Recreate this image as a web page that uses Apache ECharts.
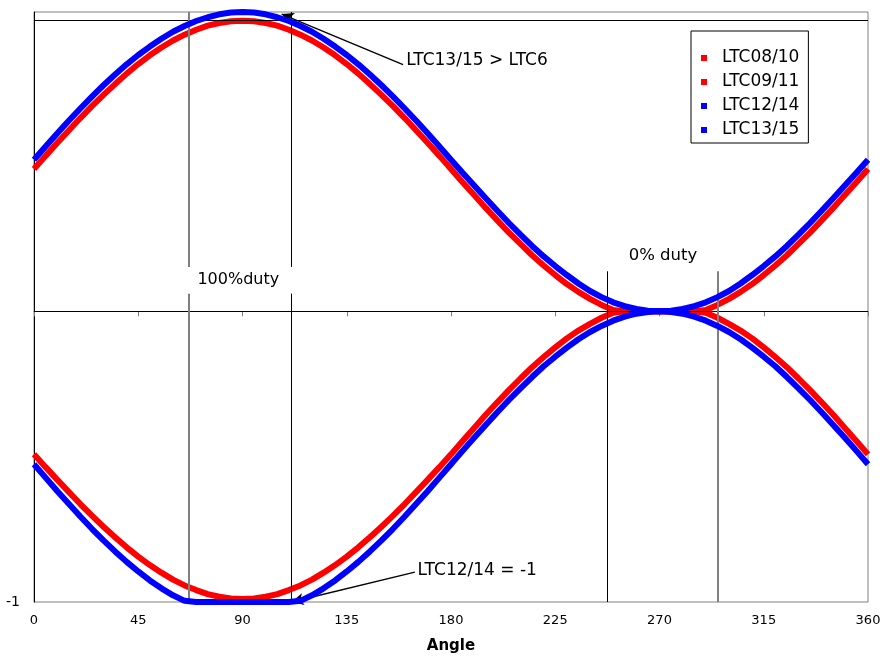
<!DOCTYPE html>
<html>
<head>
<meta charset="utf-8">
<script src="https://cdn.jsdelivr.net/npm/echarts@6/dist/echarts.min.js"></script>
<style>
html,body{margin:0;padding:0;background:#fff;}
#chart{width:887px;height:659px;}
</style>
</head>
<body>
<div id="chart"></div>
<script>
// ---- data ----
const angles = [0,5,10,15,20,25,30,35,40,45,50,55,60,65,70,75,80,85,90,95,100,105,110,115,120,125,130,135,140,145,150,155,160,165,170,175,180,185,190,195,200,205,210,215,220,225,230,235,240,245,250,255,260,265,270,275,280,285,290,295,300,305,310,315,320,325,330,335,340,345,350,355,360];

const seriesNames = ['LTC08/10','LTC09/11','LTC12/14','LTC13/15'];

const ltc0810 = [0.490,0.535,0.579,0.622,0.665,0.706,0.745,0.782,0.818,0.851,0.881,0.908,0.932,0.952,0.969,0.983,0.992,0.998,1.000,0.998,0.992,0.983,0.969,0.952,0.932,0.908,0.881,0.851,0.818,0.782,0.745,0.706,0.665,0.622,0.579,0.535,0.490,0.444,0.400,0.356,0.313,0.271,0.232,0.193,0.158,0.125,0.094,0.067,0.043,0.022,0.005,0,0,0,0,0,0,0,0.005,0.022,0.043,0.067,0.094,0.125,0.158,0.193,0.232,0.271,0.313,0.356,0.400,0.444,0.490];

const ltc0911 = [-0.492,-0.536,-0.579,-0.621,-0.663,-0.703,-0.741,-0.777,-0.812,-0.844,-0.873,-0.899,-0.923,-0.943,-0.959,-0.973,-0.982,-0.988,-0.990,-0.988,-0.982,-0.973,-0.959,-0.943,-0.923,-0.899,-0.873,-0.844,-0.812,-0.777,-0.741,-0.703,-0.663,-0.621,-0.579,-0.536,-0.492,-0.446,-0.401,-0.356,-0.313,-0.271,-0.231,-0.192,-0.157,-0.124,-0.093,-0.066,-0.043,-0.022,-0.005,0,0,0,0,0,0,0,-0.005,-0.022,-0.043,-0.066,-0.093,-0.124,-0.157,-0.192,-0.231,-0.271,-0.313,-0.356,-0.401,-0.446,-0.492];

const ltc1214 = [-0.526,-0.572,-0.618,-0.662,-0.706,-0.748,-0.788,-0.826,-0.862,-0.895,-0.926,-0.953,-0.977,-0.996,-1,-1,-1,-1,-1,-1,-1,-1,-1,-0.996,-0.977,-0.953,-0.926,-0.895,-0.862,-0.826,-0.788,-0.748,-0.706,-0.662,-0.618,-0.572,-0.526,-0.480,-0.435,-0.391,-0.347,-0.305,-0.265,-0.226,-0.189,-0.156,-0.125,-0.096,-0.071,-0.050,-0.032,-0.018,-0.008,-0.002,0,-0.002,-0.008,-0.018,-0.032,-0.050,-0.071,-0.096,-0.125,-0.156,-0.189,-0.226,-0.265,-0.305,-0.347,-0.391,-0.435,-0.480,-0.526];

const ltc1315 = [0.522,0.567,0.612,0.656,0.698,0.739,0.778,0.815,0.850,0.882,0.911,0.938,0.962,0.982,0.999,1.012,1.022,1.028,1.030,1.028,1.022,1.012,0.999,0.982,0.962,0.938,0.911,0.882,0.850,0.815,0.778,0.739,0.698,0.656,0.612,0.567,0.522,0.477,0.433,0.389,0.346,0.304,0.264,0.225,0.189,0.156,0.125,0.096,0.070,0.049,0.031,0.018,0.008,0.002,0,0.002,0.008,0.018,0.031,0.049,0.070,0.096,0.125,0.156,0.189,0.225,0.264,0.304,0.346,0.389,0.433,0.477,0.522];

const xTicks = [0,45,90,135,180,225,270,315,360];
const yTickLabels = ['-1'];

// annotations (data coordinates)
const noteTexts = ['LTC13/15 > LTC6','LTC12/14 = -1','100%duty','0% duty'];
const notePos = [[191.2,0.862],[191.3,-0.891],[88.2,0.107],[271.5,0.192]];
const noteSizes = [17,17,16,16.5];
const arrows = [[[159.3,0.849],[106.9,1.023]],[[164.4,-0.897],[111.2,-1.0]]];
const dutyLinesGray = [[[66.91,1.03],[66.91,0.153]],[[66.91,0.061],[66.91,-1]],[[295.25,0.138],[295.25,-1]]];
const dutyLinesBlack = [[[111.15,1.03],[111.15,0.153]],[[111.15,0.061],[111.15,-1]],[[247.55,0.138],[247.55,-1]]];
const refLevels = [0,1];

// ---- chart ----
const FONT = 'DejaVu Sans';
const colors = ['#ff0000','#ff0000','#0000ff','#0000ff'];
const values = [ltc0810, ltc0911, ltc1214, ltc1315];

const chart = echarts.init(document.getElementById('chart'), null, {renderer:'canvas'});

const dataSeries = seriesNames.map((name, k) => ({
  name: name,
  type: 'line',
  data: angles.map((a, i) => [a, values[k][i]]),
  symbol: 'none',
  clip: false,
  color: colors[k],
  lineStyle: {color: colors[k], width: 6, cap: 'butt', join: 'bevel'},
  emphasis: {disabled: true},
  silent: true,
  z: 3 + k
}));

const lineStyleOf = (c, w) => ({color: c, width: w, type: 'solid'});

const refSeries = {
  type: 'line',
  data: [],
  clip: false,
  silent: true,
  z: 1,
  markLine: {
    silent: true,
    symbol: ['none','none'],
    label: {show: false},
    emphasis: {disabled: true},
    animation: false,
    data: refLevels.map(v => [{coord:[0, v], lineStyle: lineStyleOf('#000', 1)}, {coord:[360, v]}])
  }
};

const annSeries = {
  type: 'line',
  data: [],
  clip: false,
  silent: true,
  z: 10,
  markLine: {
    silent: true,
    symbol: ['none','none'],
    label: {show: false},
    emphasis: {disabled: true},
    animation: false,
    data: [
      ...dutyLinesGray.map(s => [{coord:s[0], lineStyle: lineStyleOf('#808080', 2)}, {coord:s[1]}]),
      ...dutyLinesBlack.map(s => [{coord:s[0], lineStyle: lineStyleOf('#000', 1)}, {coord:s[1]}])
    ]
  },
  markPoint: {
    silent: true,
    symbol: 'rect',
    symbolSize: 1,
    itemStyle: {color: 'rgba(0,0,0,0)'},
    animation: false,
    label: {show: true, position: 'inside', color: '#000', fontFamily: FONT, fontSize: 16},
    data: noteTexts.map((t, i) => ({coord: notePos[i], value: t, label: {formatter: t, fontSize: noteSizes[i]}}))
  }
};

const arrowSeries = {
  type: 'line',
  data: [],
  clip: false,
  silent: true,
  z: 11,
  markLine: {
    silent: true,
    symbol: ['none','arrow'],
    symbolSize: [9, 12],
    label: {show: false},
    emphasis: {disabled: true},
    animation: false,
    lineStyle: {color: '#000', width: 1.4, type: 'solid'},
    data: arrows.map(a => [{coord: a[0]}, {coord: a[1]}])
  }
};

chart.setOption({
  animation: false,
  backgroundColor: '#fff',
  textStyle: {fontFamily: FONT},
  grid: {left: 34, right: 19, top: 12, bottom: 54, show: true, borderColor: '#808080', borderWidth: 1, backgroundColor: 'transparent'},
  legend: {
    orient: 'vertical',
    left: 691, top: 31,
    data: seriesNames,
    icon: 'rect',
    itemWidth: 6, itemHeight: 6, itemGap: 6,
    padding: [18, 9, 4, 10],
    borderColor: '#000', borderWidth: 1,
    backgroundColor: '#fff',
    selectedMode: false,
    textStyle: {fontFamily: FONT, fontSize: 17, color: '#000', lineHeight: 18, padding: [0,0,0,10]}
  },
  xAxis: {
    type: 'value', min: 0, max: 360, interval: 45,
    name: 'Angle', nameLocation: 'middle', nameGap: 37,
    nameTextStyle: {fontFamily: FONT, fontSize: 15, fontWeight: 'bold', color: '#000'},
    axisLine: {show: true, lineStyle: {color: '#808080', width: 1}},
    axisTick: {show: true, inside: false, length: 5, lineStyle: {color: '#808080'}},
    axisLabel: {fontFamily: FONT, fontSize: 13, color: '#000', margin: 12,
      formatter: v => (xTicks.indexOf(v) >= 0 ? String(v) : '')},
    splitLine: {show: false}
  },
  yAxis: {
    type: 'value', min: -1, max: 1.03, interval: 1,
    axisLine: {show: true, onZero: false, lineStyle: {color: '#000', width: 1}},
    axisTick: {show: false},
    axisLabel: {fontFamily: FONT, fontSize: 14, color: '#000', margin: 14,
      formatter: v => (yTickLabels.indexOf(String(v)) >= 0 ? String(v) : '')},
    splitLine: {show: false}
  },
  series: [refSeries, ...dataSeries, annSeries, arrowSeries]
});
</script>
</body>
</html>
